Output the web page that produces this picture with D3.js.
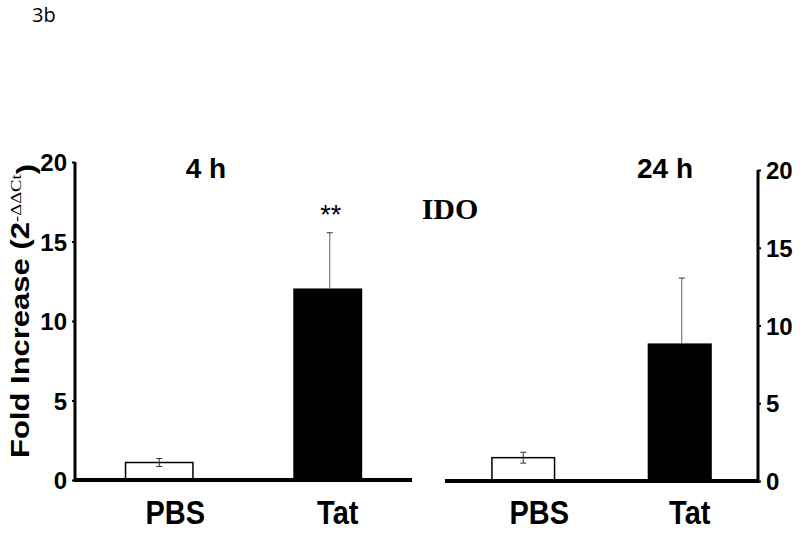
<!DOCTYPE html>
<html lang="en">
<head>
  <meta charset="UTF-8" />
  <title>3b - IDO fold increase</title>
  <style>
    body { margin: 0; background: #fff; }
    svg { display: block; }
    .tick-label, .cat-label, .panel-title, .ylab {
      font-family: "Liberation Sans", Arial, sans-serif;
      font-weight: bold;
      fill: #000;
    }
  </style>
</head>
<body>
  <svg width="800" height="533"></svg>

  <script src="https://d3js.org/d3.v7.min.js"></script>
  <script>
    // data
    const categories = ["PBS", "Tat"];
    const panels = ["4 h", "24 h"];
    const mean4h = [1.1, 12.0];
    const err4h = [0.25, 3.55];
    const mean24h = [1.5, 8.8];
    const err24h = [0.35, 4.25];
    const yTicks = [0, 5, 10, 15, 20];

    const svg = d3.select("svg");

    // figure label
    svg.append("text")
      .attr("x", 32).attr("y", 22)
      .style("font-family", "'Open Sans', 'Liberation Sans', sans-serif")
      .style("font-size", "20px")
      .text("3b");

    const layout = [
      { title: panels[0], means: mean4h, errs: err4h, x0: 75, x1: 412, yTop: 162, yBot: 480, axisSide: "left", titleX: 206 },
      { title: panels[1], means: mean24h, errs: err24h, x0: 445, x1: 758, yTop: 170, yBot: 481, axisSide: "right", titleX: 665 }
    ];

    layout.forEach(p => {
      const x = d3.scaleBand().domain(categories).range([p.x0, p.x1]).paddingInner(0.6).paddingOuter(0.3);
      const y = d3.scaleLinear().domain([0, 20]).range([p.yBot, p.yTop]);
      const g = svg.append("g");

      const rows = categories.map((c, i) => ({ cat: c, v: p.means[i], e: p.errs[i] }));

      // bars
      g.selectAll("rect.bar")
        .data(rows)
        .join("rect")
        .attr("class", "bar")
        .attr("x", d => x(d.cat))
        .attr("width", x.bandwidth())
        .attr("y", d => y(d.v))
        .attr("height", d => y(0) - y(d.v))
        .attr("fill", d => d.cat === "Tat" ? "#000" : "#fff")
        .attr("stroke", "#000")
        .attr("stroke-width", 1.5);

      // error bars (lower half hidden inside the black bars)
      rows.forEach(d => {
        const cx = x(d.cat) + x.bandwidth() / 2 + (d.cat === "Tat" ? 2 : 0);
        const lo = d.cat === "Tat" ? d.v : d.v - d.e;
        const hi = d.v + d.e;
        const col = d.cat === "Tat" ? "#666" : "#333";
        g.append("line").attr("x1", cx).attr("x2", cx).attr("y1", y(lo)).attr("y2", y(hi))
          .attr("stroke", col).attr("stroke-width", 1);
        g.append("line").attr("x1", cx - 3).attr("x2", cx + 3).attr("y1", y(hi)).attr("y2", y(hi))
          .attr("stroke", "#333").attr("stroke-width", 1);
        if (d.cat !== "Tat") {
          g.append("line").attr("x1", cx - 3).attr("x2", cx + 3).attr("y1", y(lo)).attr("y2", y(lo))
            .attr("stroke", "#333").attr("stroke-width", 1);
        }
      });

      // baseline
      g.append("line")
        .attr("x1", p.x0).attr("x2", p.x1)
        .attr("y1", y(0)).attr("y2", y(0))
        .attr("stroke", "#000").attr("stroke-width", 4);

      // vertical axis
      const axis = (p.axisSide === "left" ? d3.axisLeft(y) : d3.axisRight(y))
        .tickValues(yTicks).tickSize(3).tickPadding(5);
      const ax = g.append("g")
        .attr("transform", `translate(${p.axisSide === "left" ? p.x0 : p.x1},0)`)
        .call(axis);
      ax.select(".domain").attr("stroke-width", 3).attr("d", `M0,${p.yTop}V${p.yBot + 2}`);
      ax.selectAll(".tick line").attr("stroke-width", 2);
      ax.selectAll(".tick text")
        .attr("class", "tick-label")
        .style("font-size", "24px")
        .attr("dy", "0.36em");

      // category labels (set slightly right of the bar centres, as in the figure)
      g.selectAll("text.cat-label")
        .data(categories)
        .join("text")
        .attr("class", "cat-label")
        .attr("transform", d => `translate(${x(d) + x.bandwidth() / 2 + (d === "PBS" ? 16 : 10)},524) scale(1,1.12)`)
        .attr("text-anchor", "middle")
        .style("font-size", "29px")
        .text(d => d);

      // panel title
      g.append("text")
        .attr("class", "panel-title")
        .attr("x", p.titleX).attr("y", 178)
        .attr("text-anchor", "middle")
        .style("font-size", "28px")
        .text(p.title);

      // significance mark on the 4 h Tat bar
      if (p.title === "4 h") {
        g.append("text")
          .attr("x", x("Tat") + x.bandwidth() / 2 + 3)
          .attr("y", 224)
          .attr("text-anchor", "middle")
          .style("font-family", "'Liberation Sans', Arial, sans-serif")
          .style("font-size", "27px")
          .text("**");
      }
    });

    // gene name
    svg.append("text")
      .attr("x", 450).attr("y", 219)
      .attr("text-anchor", "middle")
      .style("font-family", "'Liberation Serif', 'Times New Roman', serif")
      .style("font-weight", "bold")
      .style("font-size", "30px")
      .text("IDO");

    // y axis title
    const ylab = svg.append("text")
      .attr("class", "ylab")
      .attr("transform", "translate(29,311) rotate(-90) scale(1.24,1)")
      .attr("text-anchor", "middle")
      .style("font-size", "25px");
    ylab.append("tspan").text("Fold Increase (2");
    ylab.append("tspan").attr("dy", "-0.55em").style("font-size", "15px").style("font-weight", "normal")
      .style("font-family", "'Liberation Serif', serif").text("-ΔΔCt");
    ylab.append("tspan").attr("dy", "0.55em").text(")");
  </script>
</body>
</html>
